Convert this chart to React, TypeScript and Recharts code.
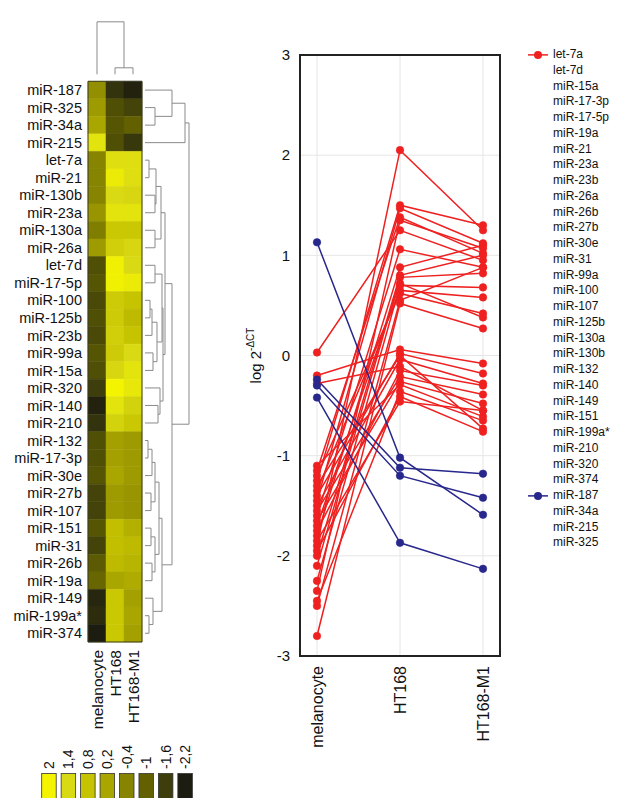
import React from "react";
import {
  ScatterChart,
  Scatter,
  LineChart,
  Line,
  XAxis,
  YAxis,
  CartesianGrid,
  ReferenceArea,
  ReferenceLine,
} from "recharts";

const FONT = "'Liberation Sans', Arial, Helvetica, sans-serif";
const RED = "#ee2020";
const BLUE = "#27278c";

// ---- heatmap ----
const heatCols = ["melanocyte", "HT168", "HT168-M1"];
const heatRows = [
  "miR-187", "miR-325", "miR-34a", "miR-215", "let-7a", "miR-21", "miR-130b", "miR-23a",
  "miR-130a", "miR-26a", "let-7d", "miR-17-5p", "miR-100", "miR-125b", "miR-23b", "miR-99a",
  "miR-15a", "miR-320", "miR-140", "miR-210", "miR-132", "miR-17-3p", "miR-30e", "miR-27b",
  "miR-107", "miR-151", "miR-31", "miR-26b", "miR-19a", "miR-149", "miR-199a*", "miR-374",
];
const heatMel = [
  -0.2, 0.0, 0.2, 1.6, -0.4, -0.4, -0.4, -0.1, -0.5, 0.0, -1.3, -1.2, -1.4, -1.3, -1.4, -1.2,
  -1.3, -1.6, -2.1, -1.8, -1.3, -1.3, -1.2, -1.5, -1.5, -1.2, -1.5, -1.1, -0.9, -2.0, -1.9, -2.2,
];
const heatHT = [
  -1.8, -1.3, -1.2, -1.3, 1.5, 1.8, 1.4, 1.6, 0.9, 1.1, 1.9, 1.9, 1.0, 1.0, 1.1, 1.0,
  1.3, 2.0, 1.6, 1.2, 0.1, 0.1, 0.2, 0.0, 0.0, 0.7, 0.7, 0.6, 0.2, 0.9, 0.9, 0.9,
];
const heatM1 = [
  -2.1, -1.5, -1.0, -1.7, 1.5, 1.5, 1.3, 1.6, 0.9, 1.3, 1.4, 1.8, 0.8, 0.6, 0.8, 1.4,
  1.6, 1.7, 1.2, 0.9, 0.0, 0.0, 0.0, -0.1, -0.1, 0.4, 0.6, 0.5, 0.3, 0.1, 0.2, 0.1,
];

// row dendrogram: [nodeA, nodeB, height], new nodes numbered from 32
const rowMerges = [
  [1, 2, 12], [0, 32, 29], [33, 3, 42],
  [4, 5, 6], [6, 7, 12], [35, 36, 13], [8, 9, 12], [37, 38, 18], [10, 11, 12],
  [12, 13, 7], [41, 14, 9], [15, 16, 10], [42, 43, 14], [40, 44, 19], [18, 19, 15],
  [17, 46, 17], [45, 47, 20], [39, 48, 22],
  [20, 21, 5], [50, 22, 9], [23, 24, 8], [51, 52, 12], [25, 26, 8], [27, 28, 9],
  [54, 55, 12], [53, 56, 16], [30, 31, 6], [29, 58, 10], [57, 59, 19],
  [49, 60, 29], [34, 61, 46],
];
const colMerges = [
  [1, 2, 13.5], [0, 3, 59.5],
];

// colour scale
const scaleValues = [2, 1.4, 0.8, 0.2, -0.4, -1, -1.6, -2.2];
const scaleLabels = ["2", "1,4", "0,8", "0,2", "-0,4", "-1", "-1,6", "-2,2"];
const scaleColors = ["#f4f400", "#dada14", "#c6c400", "#aaa600", "#868400", "#626000", "#3e3e0c", "#1c1c10"];

// ---- line chart ----
const categories = ["melanocyte", "HT168", "HT168-M1"];
const seriesNames = [
  "let-7a", "let-7d", "miR-15a", "miR-17-3p", "miR-17-5p", "miR-19a", "miR-21", "miR-23a",
  "miR-23b", "miR-26a", "miR-26b", "miR-27b", "miR-30e", "miR-31", "miR-99a", "miR-100",
  "miR-107", "miR-125b", "miR-130a", "miR-130b", "miR-132", "miR-140", "miR-149", "miR-151",
  "miR-199a*", "miR-210", "miR-320", "miR-374", "miR-187", "miR-34a", "miR-215", "miR-325",
];
const downSeries = ["miR-187", "miR-34a", "miR-215", "miR-325"];
const melanocyteValues = [
  -1.25, -1.9, -1.45, -0.2, -2.35, -1.4, -1.15, 0.03, -1.7, -1.6, -1.5, -0.28, -1.55, -1.65, -1.8, -2.1,
  -1.1, -2.25, -1.35, -1.2, -1.3, -2.5, -1.95, -1.85, -2.45, -2.8, -2.0, -1.75, 1.13, -0.24, -0.3, -0.42,
];
const ht168Values = [
  1.5, 2.05, 1.47, 0.06, 1.35, 0.02, 1.38, 1.25, 0.72, 1.06, -0.04, -0.11, -0.21, -0.26, 0.88, 0.78,
  -0.29, 0.7, 0.65, 0.62, 0.0, 0.55, -0.41, -0.46, -0.36, 0.52, 0.8, -0.15, -1.02, -1.12, -1.2, -1.87,
];
const ht168M1Values = [
  1.3, 1.25, 1.12, -0.08, 1.07, -0.18, 1.02, 0.95, 0.38, 0.88, -0.28, -0.55, -0.39, -0.48, 1.1, 0.82,
  -0.61, 0.68, 0.58, 0.42, -0.73, 0.88, -0.76, -0.55, -0.65, 0.27, 1.0, -0.3, -1.59, -1.18, -1.42, -2.13,
];
const yTicks = [-3, -2, -1, 0, 1, 2, 3];

const columnValues = [melanocyteValues, ht168Values, ht168M1Values];
const lineData = categories.map((cat, ci) => {
  const row: Record<string, any> = { cat };
  seriesNames.forEach((n, si) => {
    row[n] = columnValues[ci][si];
  });
  return row;
});

const hexToRgb = (h: string) => [1, 3, 5].map((i) => parseInt(h.slice(i, i + 2), 16));
function heatColor(v: number) {
  const c = Math.max(-2.2, Math.min(2, v));
  for (let i = 0; i < scaleValues.length - 1; i++) {
    const a = scaleValues[i];
    const b = scaleValues[i + 1];
    if (c <= a && c >= b) {
      const t = (a - c) / (a - b);
      const ca = hexToRgb(scaleColors[i]);
      const cb = hexToRgb(scaleColors[i + 1]);
      const m = ca.map((x, k) => Math.round(x + (cb[k] - x) * t));
      return `rgb(${m[0]},${m[1]},${m[2]})`;
    }
  }
  return scaleColors[0];
}

// dendrogram segments in (height, position) pairs
function dendSegments(n: number, merges: number[][], leafH: number) {
  const pos: number[] = [];
  const hgt: number[] = [];
  for (let i = 0; i < n; i++) {
    pos[i] = i + 0.5;
    hgt[i] = leafH;
  }
  const segs: number[][] = [];
  merges.forEach(([a, b, h], k) => {
    const id = n + k;
    pos[id] = (pos[a] + pos[b]) / 2;
    hgt[id] = h;
    segs.push([hgt[a], pos[a], h, pos[a]]);
    segs.push([hgt[b], pos[b], h, pos[b]]);
    segs.push([h, pos[a], h, pos[b]]);
  });
  return segs;
}

const ROW_PX = 17.52;
const COL_PX = 18;
const rowDendX = (h: number) => 3 + (h + 1) / COL_PX;
const colDendY = (h: number) => -h / ROW_PX;

const heatCells = heatRows.flatMap((name, r) =>
  [heatMel[r], heatHT[r], heatM1[r]].map((v, c) => ({ x: c + 0.5, y: r + 0.5, v, c, r }))
);
const rowSegs = dendSegments(heatRows.length, rowMerges, 2);
const colSegs = dendSegments(heatCols.length, colMerges, 7);

const ColTick = ({ x, y, payload, labels, size }: any) => {
  const idx = Math.floor(payload.value);
  const ax = x + size * 0.36;
  return (
    <text
      x={ax}
      y={y}
      transform={`rotate(-90 ${ax} ${y})`}
      textAnchor="end"
      fontSize={size}
      fontFamily={FONT}
      fill="#111"
    >
      {labels[idx] ?? payload.value}
    </text>
  );
};

const YLabel = ({ viewBox }: any) => {
  const x = viewBox.x + 31;
  const y = viewBox.y + viewBox.height / 2;
  return (
    <text
      x={x}
      y={y}
      transform={`rotate(-90 ${x} ${y})`}
      textAnchor="middle"
      fontSize={15}
      fontFamily={FONT}
      fill="#111"
    >
      <tspan>log 2</tspan>
      <tspan dy={-7} fontSize={10}>-ΔCT</tspan>
    </text>
  );
};

const Heatmap = () => (
  <ScatterChart width={200} height={760} margin={{ top: 20, right: 4, bottom: 0, left: 0 }}>
    <XAxis
      type="number"
      dataKey="x"
      domain={[0, 6]}
      ticks={[0.5, 1.5, 2.5]}
      interval={0}
      height={118}
      axisLine={false}
      tickLine={false}
      tickSize={0}
      tickMargin={8}
      tick={<ColTick labels={heatCols} size={15.5} />}
    />
    <YAxis
      type="number"
      dataKey="y"
      domain={[-3.5, 32]}
      reversed
      ticks={heatRows.map((_, i) => i + 0.5)}
      interval={0}
      width={88}
      axisLine={false}
      tickLine={false}
      tickSize={0}
      tickMargin={6}
      tickFormatter={(v: number) => heatRows[Math.floor(v)]}
      tick={{ fontSize: 14.5, fill: "#111", fontFamily: FONT }}
    />
    {heatCells.map((cell) => (
      <ReferenceArea
        key={`c${cell.r}-${cell.c}`}
        x1={cell.c}
        x2={cell.c + 1}
        y1={cell.r}
        y2={cell.r + 1}
        fill={heatColor(cell.v)}
        fillOpacity={1}
        stroke={heatColor(cell.v)}
        strokeWidth={0.5}
      />
    ))}
    <ReferenceArea x1={0} x2={3} y1={0} y2={32} fill="none" stroke="#3a3a20" strokeWidth={1} />
    {rowSegs.map((s, i) => (
      <ReferenceLine
        key={`r${i}`}
        segment={[{ x: rowDendX(s[0]), y: s[1] }, { x: rowDendX(s[2]), y: s[3] }]}
        stroke="#8a8a8a"
        strokeWidth={1}
        ifOverflow="visible"
      />
    ))}
    {colSegs.map((s, i) => (
      <ReferenceLine
        key={`k${i}`}
        segment={[{ x: s[1], y: colDendY(s[0]) }, { x: s[3], y: colDendY(s[2]) }]}
        stroke="#8a8a8a"
        strokeWidth={1}
        ifOverflow="visible"
      />
    ))}
    <Scatter data={heatCells} shape={() => <g />} isAnimationActive={false} />
  </ScatterChart>
);

const ColorKey = () => (
  <svg width={200} height={63} style={{ position: "absolute", left: 0, top: 735 }}>
    {scaleValues.map((v, i) => {
      const bx = 41.7 + i * 19.45;
      const tx = bx + 7.2 + 5;
      return (
        <g key={v}>
          <rect x={bx} y={38.5} width={14.5} height={30} fill={scaleColors[i]} stroke="#333" strokeWidth={0.8} />
          <text
            x={tx}
            y={34}
            transform={`rotate(-90 ${tx} 34)`}
            fontSize={14}
            fontFamily={FONT}
            fill="#111"
          >
            {scaleLabels[i]}
          </text>
        </g>
      );
    })}
  </svg>
);

const LEG_H = 15.75;

const MirLegend = () => (
  <div style={{ position: "absolute", left: 526, top: 55 - LEG_H / 2, fontFamily: FONT, fontSize: 12, color: "#111" }}>
    {seriesNames.map((name, i) => {
      const color = downSeries.includes(name) ? BLUE : RED;
      const first = i === 0 || name === downSeries[0];
      return (
        <div key={name} style={{ height: LEG_H, lineHeight: `${LEG_H}px`, display: "flex", alignItems: "center" }}>
          <svg width={27} height={LEG_H}>
            {first && (
              <g>
                <line x1={2} x2={22} y1={LEG_H / 2} y2={LEG_H / 2} stroke={color} strokeWidth={1.5} />
                <circle cx={12} cy={LEG_H / 2} r={4} fill={color} />
              </g>
            )}
          </svg>
          <span>{name}</span>
        </div>
      );
    })}
  </div>
);

const Profiles = () => (
  <LineChart width={392} height={798} data={lineData} margin={{ top: 55, right: 122, bottom: 0, left: 0 }}>
    <CartesianGrid stroke="#e6e6e6" strokeWidth={1} />
    <XAxis
      dataKey="cat"
      height={142}
      padding={{ left: 17, right: 17 }}
      interval={0}
      axisLine={false}
      tickLine={false}
      tickSize={0}
      tickMargin={10}
      tick={<ColTick labels={categories} size={16} />}
    />
    <YAxis
      domain={[-3, 3]}
      ticks={yTicks}
      interval={0}
      width={70}
      axisLine={false}
      tickLine={false}
      tickSize={0}
      tickMargin={10}
      tick={{ fontSize: 15, fill: "#111", fontFamily: FONT }}
      label={<YLabel />}
    />
    {seriesNames.map((name) => {
      const color = downSeries.includes(name) ? BLUE : RED;
      return (
        <Line
          key={name}
          dataKey={name}
          type="linear"
          stroke={color}
          strokeWidth={1.5}
          dot={{ r: 3.8, fill: color, stroke: color, strokeWidth: 0.5 }}
          activeDot={false}
          isAnimationActive={false}
        />
      );
    })}
  </LineChart>
);

export default function App() {
  return (
    <div
      style={{
        position: "absolute",
        left: 0,
        top: 0,
        width: 622,
        height: 798,
        overflow: "hidden",
        background: "#fff",
        fontFamily: FONT,
      }}
    >
      <div style={{ position: "absolute", left: 0, top: 0 }}>
        <Heatmap />
      </div>
      <ColorKey />
      <div style={{ position: "absolute", left: 230, top: 0 }}>
        <Profiles />
      </div>
      {/* plot frame */}
      <svg
        width={210}
        height={612}
        style={{ position: "absolute", left: 295, top: 50, pointerEvents: "none" }}
      >
        <rect x={5} y={5} width={200} height={601} fill="none" stroke="#222" strokeWidth={2} />
      </svg>
      <MirLegend />
    </div>
  );
}
